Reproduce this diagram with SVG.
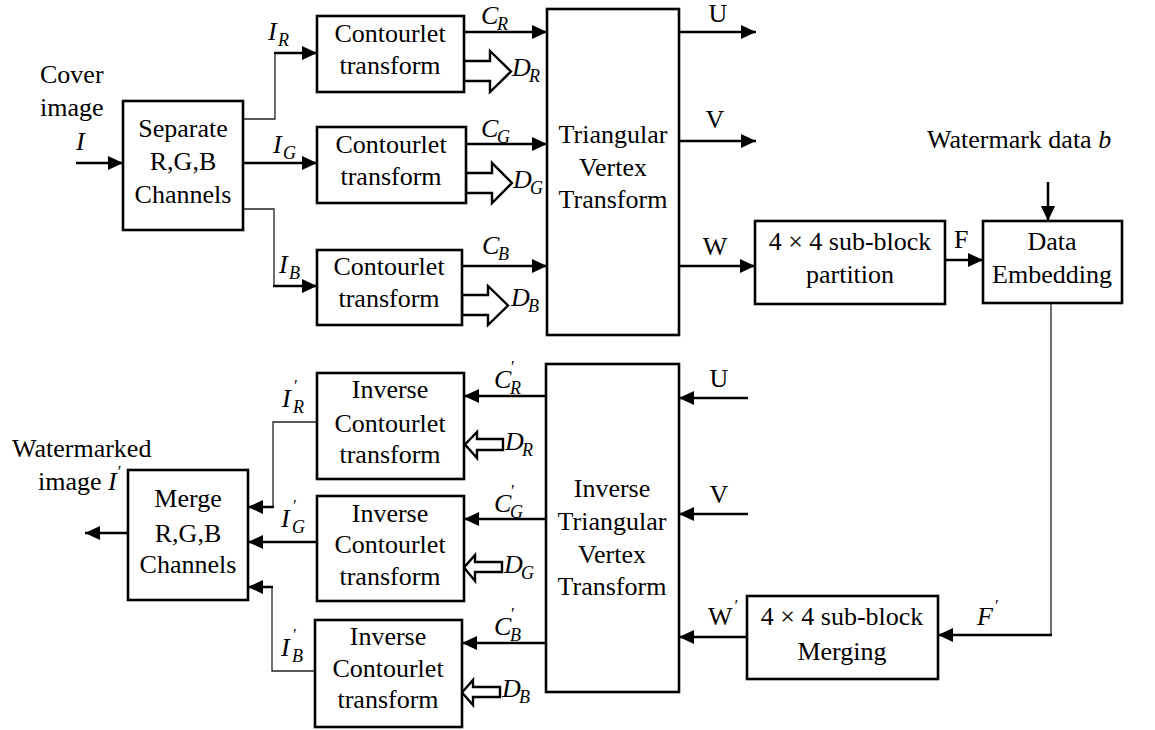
<svg xmlns="http://www.w3.org/2000/svg" width="1155" height="730" viewBox="0 0 1155 730" font-family="'Liberation Serif', serif">
  <defs>
    <style>
      .box { fill: #fff; stroke: #000; stroke-width: 2.6; }
      .ln { fill: none; stroke: #000; stroke-width: 2.5; }
      .thin { fill: none; stroke: #222; stroke-width: 1.3; }
      .hollow { fill: #fff; stroke: #000; stroke-width: 2.4; stroke-linejoin: miter; }
      text { font-family: 'Liberation Serif', serif; fill: #000; }
      .t { font-size: 26px; text-anchor: middle; }
      .tl { font-size: 26px; }
      .m { font-style: italic; font-size: 26px; }
      .s { font-style: italic; font-size: 18px; }
      .p { font-size: 17px; }
    </style>
    <marker id="arr" markerUnits="userSpaceOnUse" markerWidth="15" markerHeight="14" refX="15" refY="7" orient="auto">
      <path d="M0,0 L15,7 L0,14 z" fill="#000"/>
    </marker>
  </defs>
  <rect width="1155" height="730" fill="#fff"/>

  <!-- connectors -->
  <g id="connectors">
    <!-- forward path -->
    <path class="ln" d="M76,163 H123" marker-end="url(#arr)"/>
    <path class="thin" d="M243,119 H275 V53"/>
    <path class="ln" d="M274,53 H317" marker-end="url(#arr)"/>
    <path class="ln" d="M243,163 H317" marker-end="url(#arr)"/>
    <path class="thin" d="M243,209 H274 V286"/>
    <path class="ln" d="M273,286 H317" marker-end="url(#arr)"/>
    <path class="ln" d="M464,32 H547" marker-end="url(#arr)"/>
    <path class="ln" d="M466,144 H547" marker-end="url(#arr)"/>
    <path class="ln" d="M462,266 H547" marker-end="url(#arr)"/>
    <polygon class="hollow" points="464,61 490,61 490,51 511,71.5 490,92 490,81 464,81"/>
    <polygon class="hollow" points="466,173 492,173 492,163 512,183 492,203 492,193 466,193"/>
    <polygon class="hollow" points="462,295 488,295 488,286 508,305.5 488,325 488,315 462,315"/>
    <path class="ln" d="M679,32 H756" marker-end="url(#arr)"/>
    <path class="ln" d="M679,141 H756" marker-end="url(#arr)"/>
    <path class="ln" d="M679,266 H755" marker-end="url(#arr)"/>
    <path class="ln" d="M945,260 H983" marker-end="url(#arr)"/>
    <path class="ln" d="M1048,182 V221" marker-end="url(#arr)"/>
    <!-- return path -->
    <path class="thin" d="M1051,303 V635"/>
    <path class="ln" d="M1052,635 H938" marker-end="url(#arr)"/>
    <path class="ln" d="M747,637 H679" marker-end="url(#arr)"/>
    <path class="ln" d="M748,398 H679" marker-end="url(#arr)"/>
    <path class="ln" d="M748,514 H679" marker-end="url(#arr)"/>
    <path class="ln" d="M546,396 H464" marker-end="url(#arr)"/>
    <path class="ln" d="M546,519 H464" marker-end="url(#arr)"/>
    <path class="ln" d="M546,643 H462" marker-end="url(#arr)"/>
    <polygon class="hollow" points="503,439 477,439 477,432 465,444.5 477,458 477,450 503,450"/>
    <polygon class="hollow" points="502,562 475,562 475,555 464,567.5 475,581 475,572 502,572"/>
    <polygon class="hollow" points="500,687 473,687 473,680 462,692.5 473,705 473,697 500,697"/>
    <path class="thin" d="M317,422 H273 V507"/>
    <path class="ln" d="M274,507 H248" marker-end="url(#arr)"/>
    <path class="ln" d="M317,542 H248" marker-end="url(#arr)"/>
    <path class="thin" d="M315,671 H272 V587"/>
    <path class="ln" d="M273,587 H248" marker-end="url(#arr)"/>
    <path class="ln" d="M128,533 H85" marker-end="url(#arr)"/>
  </g>

  <!-- connector labels -->
  <g id="labels">
    <text class="tl" x="40" y="83">Cover</text>
    <text class="tl" x="40" y="116">image</text>
    <text class="m" x="76" y="150">I</text>

    <text class="m" x="268" y="40">I</text><text class="s" x="278" y="46">R</text>
    <text class="m" x="273" y="153">I</text><text class="s" x="283" y="159">G</text>
    <text class="m" x="279" y="273">I</text><text class="s" x="289" y="279">B</text>

    <text class="m" x="481" y="24">C</text><text class="s" x="497" y="30">R</text>
    <text class="m" x="481" y="137">C</text><text class="s" x="497" y="143">G</text>
    <text class="m" x="482" y="254">C</text><text class="s" x="498" y="260">B</text>
    <text class="m" x="512" y="76">D</text><text class="s" x="529" y="82">R</text>
    <text class="m" x="513" y="188">D</text><text class="s" x="530" y="194">G</text>
    <text class="m" x="511" y="306">D</text><text class="s" x="528" y="312">B</text>

    <text class="t" x="718" y="22">U</text>
    <text class="t" x="715" y="128">V</text>
    <text class="t" x="715" y="255">W</text>
    <text class="tl" x="954" y="248">F</text>
    <text class="tl" x="927" y="148">Watermark data <tspan font-style="italic">b</tspan></text>

    <text class="t" x="719" y="387">U</text>
    <text class="t" x="719" y="503">V</text>
    <text class="tl" x="708" y="625">W<tspan class="p" dx="2" dy="-14">′</tspan></text>
    <text class="m" x="977" y="625">F<tspan class="p" font-style="normal" dx="2" dy="-14">′</tspan></text>

    <text class="m" x="494" y="388">C</text><text class="p" x="511" y="372">′</text><text class="s" x="510" y="394">R</text>
    <text class="m" x="494" y="512">C</text><text class="p" x="511" y="496">′</text><text class="s" x="510" y="518">G</text>
    <text class="m" x="494" y="635">C</text><text class="p" x="511" y="619">′</text><text class="s" x="510" y="641">B</text>
    <text class="m" x="505" y="450">D</text><text class="s" x="522" y="456">R</text>
    <text class="m" x="504" y="573">D</text><text class="s" x="521" y="579">G</text>
    <text class="m" x="502" y="697">D</text><text class="s" x="519" y="703">B</text>

    <text class="m" x="282" y="407">I</text><text class="p" x="294" y="391">′</text><text class="s" x="293" y="413">R</text>
    <text class="m" x="281" y="527">I</text><text class="p" x="293" y="511">′</text><text class="s" x="292" y="533">G</text>
    <text class="m" x="281" y="656">I</text><text class="p" x="293" y="640">′</text><text class="s" x="292" y="662">B</text>

    <text class="tl" x="12" y="457">Watermarked</text>
    <text class="tl" x="38" y="490">image <tspan font-style="italic">I</tspan><tspan class="p" dx="1" dy="-13">′</tspan></text>
  </g>

  <!-- nodes -->
  <g id="separate">
    <rect class="box" x="123" y="101" width="120" height="129"/>
    <text class="t" x="183" y="137">Separate</text>
    <text class="t" x="183" y="170">R,G,B</text>
    <text class="t" x="183" y="203">Channels</text>
  </g>
  <g id="contourlet-r">
    <rect class="box" x="317" y="16" width="147" height="76"/>
    <text class="t" x="390" y="42">Contourlet</text>
    <text class="t" x="390" y="74">transform</text>
  </g>
  <g id="contourlet-g">
    <rect class="box" x="317" y="127" width="149" height="76"/>
    <text class="t" x="391" y="153">Contourlet</text>
    <text class="t" x="391" y="185">transform</text>
  </g>
  <g id="contourlet-b">
    <rect class="box" x="317" y="250" width="145" height="75"/>
    <text class="t" x="389" y="275">Contourlet</text>
    <text class="t" x="389" y="307">transform</text>
  </g>
  <g id="tvt">
    <rect class="box" x="547" y="9" width="132" height="326"/>
    <text class="t" x="613" y="143">Triangular</text>
    <text class="t" x="613" y="176">Vertex</text>
    <text class="t" x="613" y="208">Transform</text>
  </g>
  <g id="partition">
    <rect class="box" x="755" y="221" width="190" height="83"/>
    <text class="t" x="850" y="250">4 × 4 sub-block</text>
    <text class="t" x="850" y="283">partition</text>
  </g>
  <g id="embedding">
    <rect class="box" x="983" y="221" width="139" height="82"/>
    <text class="t" x="1052" y="250">Data</text>
    <text class="t" x="1052" y="283">Embedding</text>
  </g>
  <g id="merging">
    <rect class="box" x="747" y="596" width="191" height="83"/>
    <text class="t" x="842" y="625">4 × 4 sub-block</text>
    <text class="t" x="842" y="660">Merging</text>
  </g>
  <g id="itvt">
    <rect class="box" x="546" y="364" width="133" height="328"/>
    <text class="t" x="612" y="497">Inverse</text>
    <text class="t" x="612" y="530">Triangular</text>
    <text class="t" x="612" y="563">Vertex</text>
    <text class="t" x="612" y="595">Transform</text>
  </g>
  <g id="inv-contourlet-r">
    <rect class="box" x="317" y="373" width="147" height="106"/>
    <text class="t" x="390" y="398">Inverse</text>
    <text class="t" x="390" y="432">Contourlet</text>
    <text class="t" x="390" y="463">transform</text>
  </g>
  <g id="inv-contourlet-g">
    <rect class="box" x="317" y="496" width="147" height="105"/>
    <text class="t" x="390" y="522">Inverse</text>
    <text class="t" x="390" y="553">Contourlet</text>
    <text class="t" x="390" y="585">transform</text>
  </g>
  <g id="inv-contourlet-b">
    <rect class="box" x="315" y="620" width="147" height="107"/>
    <text class="t" x="388" y="645">Inverse</text>
    <text class="t" x="388" y="677">Contourlet</text>
    <text class="t" x="388" y="708">transform</text>
  </g>
  <g id="merge">
    <rect class="box" x="128" y="470" width="120" height="130"/>
    <text class="t" x="188" y="507">Merge</text>
    <text class="t" x="188" y="542">R,G,B</text>
    <text class="t" x="188" y="573">Channels</text>
  </g>
</svg>
